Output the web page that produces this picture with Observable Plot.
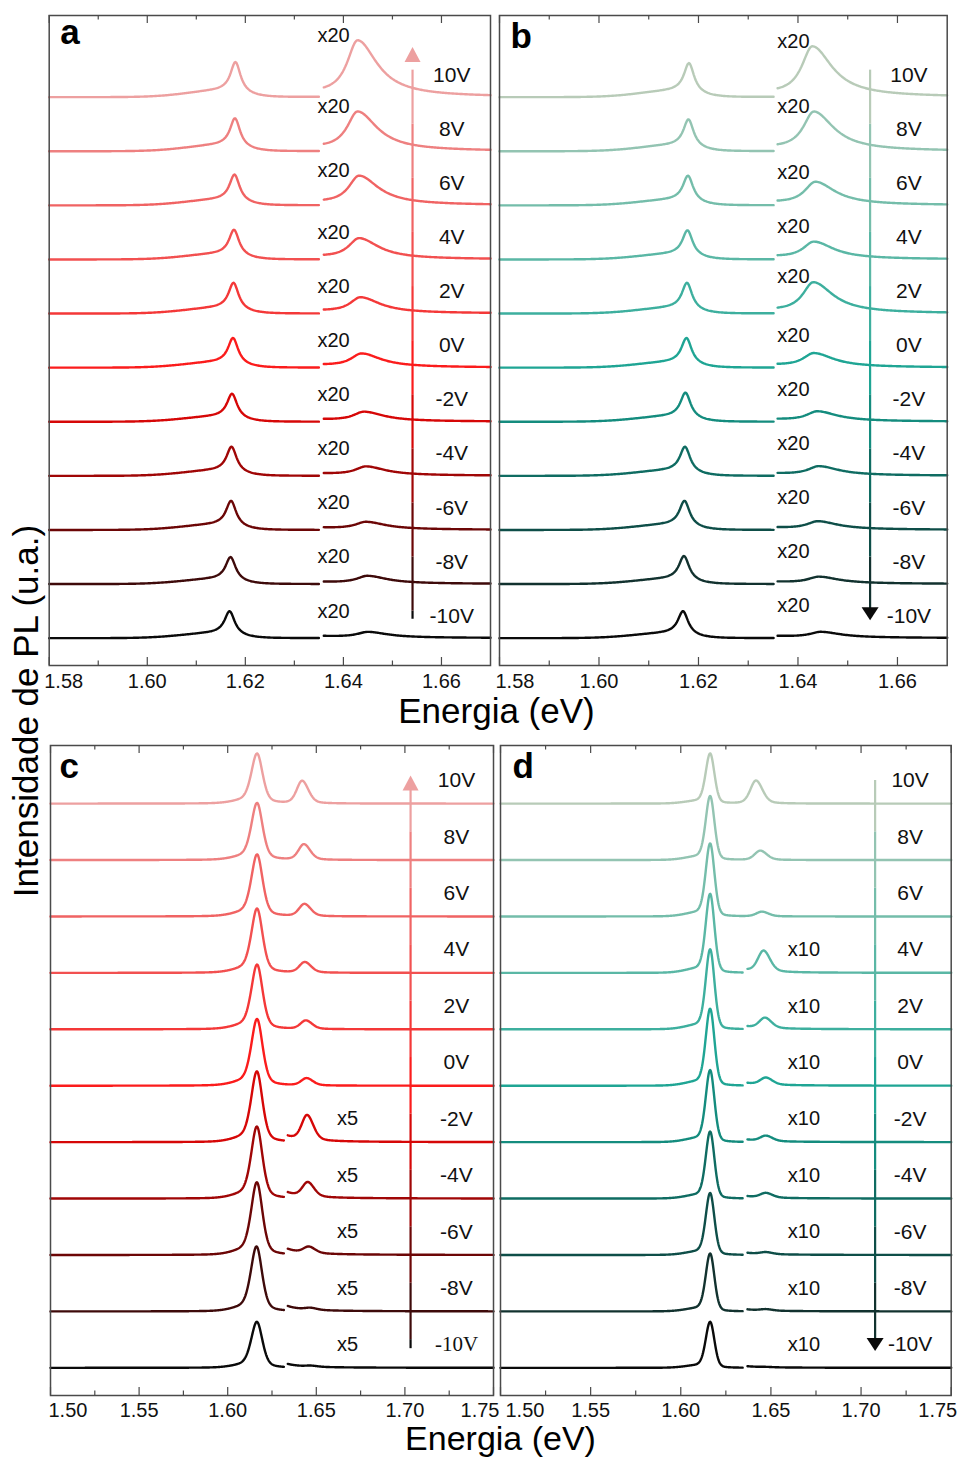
<!DOCTYPE html>
<html>
<head>
<meta charset="utf-8">
<script src="https://cdn.jsdelivr.net/npm/d3@7"></script>
<script src="https://cdn.jsdelivr.net/npm/@observablehq/plot@0.6"></script>
<style>
  body { margin: 0; background: #fff; }
  #fig { position: relative; width: 960px; height: 1459px; font-family: "Liberation Sans", Arial, sans-serif; }
  #fig .panel { position: absolute; }
  #titles { position: absolute; left: 0; top: 0; pointer-events: none; }
</style>
</head>
<body>
<div id="fig"></div>
<script>
// Gate voltages, top spectrum first
const voltages = ["10V", "8V", "6V", "4V", "2V", "0V", "-2V", "-4V", "-6V", "-8V", "-10V"];

// Panel a: 1.58–1.67 eV window, satellite region magnified x20
const aFactor = [20, 20, 20, 20, 20, 20, 20, 20, 20, 20, 20];
const aMainPeak = [1.6180, 1.6179, 1.6178, 1.6177, 1.6176, 1.6175, 1.6173, 1.6172, 1.6171, 1.6170, 1.6168];
const aMainHeight = [0.65, 0.61, 0.57, 0.55, 0.57, 0.55, 0.52, 0.54, 0.54, 0.50, 0.50];
const aSidePeak = [1.6429, 1.6429, 1.6432, 1.6432, 1.6435, 1.6437, 1.6442, 1.6446, 1.6446, 1.6449, 1.6450];
const aSideHeight = [0.0512, 0.0355, 0.0263, 0.0186, 0.0140, 0.0121, 0.0084, 0.0078, 0.0066, 0.0068, 0.0050];

// Panel b: same window, second device
const bFactor = [20, 20, 20, 20, 20, 20, 20, 20, 20, 20, 20];
const bMainPeak = [1.6181, 1.6180, 1.6179, 1.6178, 1.6177, 1.6176, 1.6174, 1.6173, 1.6172, 1.6171, 1.6169];
const bMainHeight = [0.63, 0.59, 0.55, 0.54, 0.57, 0.55, 0.54, 0.54, 0.54, 0.52, 0.50];
const bSidePeak = [1.6429, 1.6432, 1.6435, 1.6432, 1.6431, 1.6432, 1.6439, 1.6442, 1.6440, 1.6442, 1.6446];
const bSideHeight = [0.0457, 0.0355, 0.0207, 0.0154, 0.0278, 0.0124, 0.0087, 0.0080, 0.0071, 0.0059, 0.0050];

// Panel c: 1.50–1.75 eV window, satellite magnified x5 below 0V
const cFactor = [1, 1, 1, 1, 1, 1, 5, 5, 5, 5, 5];
const cMainPeak = [1.6166, 1.6166, 1.6166, 1.6166, 1.6166, 1.6166, 1.6165, 1.6165, 1.6165, 1.6163, 1.6165];
const cMainHeight = [0.887, 1.011, 1.099, 1.140, 1.147, 1.183, 1.254, 1.277, 1.289, 1.152, 0.816];
const cSidePeak = [1.6420, 1.6430, 1.6433, 1.6435, 1.6441, 1.6445, 1.6448, 1.6452, 1.6458, 1.6467, 1.6470];
const cSideHeight = [0.399, 0.275, 0.216, 0.186, 0.151, 0.128, 0.0883, 0.0507, 0.0223, 0.0067, 0.0035];

// Panel d: 1.50–1.75 eV window, satellite magnified x10 from 4V down
const dFactor = [1, 1, 1, 10, 10, 10, 10, 10, 10, 10, 10];
const dMainPeak = [1.6163, 1.6163, 1.6163, 1.6163, 1.6163, 1.6163, 1.6163, 1.6163, 1.6163, 1.6163, 1.6163];
const dMainHeight = [0.887, 1.135, 1.294, 1.401, 1.418, 1.365, 1.277, 1.188, 1.099, 1.028, 0.816];
const dSidePeak = [1.6417, 1.6441, 1.6450, 1.6459, 1.6467, 1.6472, 1.6472, 1.6472, 1.6472, 1.6472, 1.6472];
const dSideHeight = [0.408, 0.165, 0.083, 0.0372, 0.0184, 0.0124, 0.0096, 0.0083, 0.0035, 0.0025, 0.0005];

// Axis ticks
const abMajor = [1.58, 1.60, 1.62, 1.64, 1.66];
const abMinor = [1.59, 1.61, 1.63, 1.65];
const cdMajor = [1.50, 1.55, 1.60, 1.65, 1.70, 1.75];
const cdMinor = [1.525, 1.575, 1.625, 1.675, 1.725];

// Line colours, 10V → -10V
const reds = ["#eda0a0", "#ee8080", "#f06363", "#f25050", "#f43838", "#fb1c1c", "#d60707", "#a00606", "#6c0606", "#3e0a0a", "#0a0a0a"];
const teals = ["#b8cbb8", "#93c4b2", "#74bdaa", "#5ab7a5", "#3daf9e", "#1fa594", "#148c7e", "#0f6c62", "#0e4e48", "#12322f", "#0a0a0a"];

// Asymmetric pseudo-Voigt (unit height, half widths on each side)
function pv(x, c, hwL, hwR, eta) {
  const u = (x - c) / (x < c ? hwL : hwR);
  return eta / (1 + u * u) + (1 - eta) * Math.exp(-Math.LN2 * u * u);
}
function makeMain(s) {
  const f = (x, c) => pv(x, c, s.hw[0], s.hw[1], s.eta) +
    s.sh.amp * pv(x, c + s.sh.shift, s.sh.hw[0], s.sh.hw[1], s.sh.eta);
  const norm = f(0, 0);
  return (x, c) => f(x, c) / norm;
}
const narrowMain = makeMain({hw: [0.00125, 0.00125], eta: 1, sh: {shift: -0.003, amp: 0.2, hw: [0.0082, 0.0047], eta: 0}});
const narrowSide = (x, c) => pv(x, c, 0.0026, 0.0048, 1);
const cMain = makeMain({hw: [0.0038, 0.0037], eta: 0.4, sh: {shift: -0.006, amp: 0.05, hw: [0.009, 0.004], eta: 0}});
const cSide = (x, c) => pv(x, c, 0.0036, 0.0042, 0.3);
const dMain = makeMain({hw: [0.0029, 0.0028], eta: 0.2, sh: {shift: -0.006, amp: 0.05, hw: [0.009, 0.004], eta: 0}});
const dSide = (x, c) => pv(x, c, 0.0037, 0.0043, 0.3);

const upHead = {draw(ctx) { ctx.moveTo(0, 0); ctx.lineTo(8, 15); ctx.lineTo(-8, 15); ctx.closePath(); }};
const downHead = {draw(ctx) { ctx.moveTo(0, 0); ctx.lineTo(8.5, -13); ctx.lineTo(-8.5, -13); ctx.closePath(); }};

const panels = [
  {letter: "a", left: 0, top: 0, width: 494, height: 700, mL: 48.7, mR: 4, mT: 15, mB: 35,
   x: [1.58, 1.67], y: [-0.505, 11.51], colors: reds,
   factor: aFactor, mainPeak: aMainPeak, mainHeight: aMainHeight, sidePeak: aSidePeak, sideHeight: aSideHeight,
   main: narrowMain, side: narrowSide, mainEnd: 1.635, sideStart: 1.636, step: 0.0002,
   major: abMajor, minor: abMinor, labelX: 1.6621, multX: 1.638, multLift: 0.5, multFixed: false,
   arrow: {x: 1.6541, from: 0.35, to: 10.93, up: true}, letterPos: [11, 28.3], firstDx: -5, lastEdge: false, pad: 8},
  {letter: "b", left: 494, top: 0, width: 466, height: 700, mL: 5, mR: 13.3, mT: 15, mB: 35,
   x: [1.58, 1.67], y: [-0.505, 11.51], colors: teals,
   factor: bFactor, mainPeak: bMainPeak, mainHeight: bMainHeight, sidePeak: bSidePeak, sideHeight: bSideHeight,
   main: narrowMain, side: narrowSide, mainEnd: 1.6351, sideStart: 1.6359, step: 0.0002,
   major: abMajor, minor: abMinor, labelX: 1.6623, multX: 1.6391, multLift: 0.6, multFixed: false,
   arrow: {x: 1.6545, from: 10.83, to: 0.33, up: false}, letterPos: [11, 32.5], firstDx: -4, lastEdge: false, pad: 8},
  {letter: "c", left: 0, top: 720, width: 496, height: 720, mL: 50, mR: 3, mT: 25, mB: 45,
   x: [1.50, 1.75], y: [-0.49, 11.03], colors: reds,
   factor: cFactor, mainPeak: cMainPeak, mainHeight: cMainHeight, sidePeak: cSidePeak, sideHeight: cSideHeight,
   main: cMain, side: cSide, mainEnd: 1.6317, sideStart: 1.6339, step: 0.00025,
   major: cdMajor, minor: cdMinor, labelX: 1.7291, multX: 1.6676, multLift: 0.41, multFixed: true,
   arrow: {x: 1.7032, from: 0.34, to: 10.5, up: true}, letterPos: [9, 32], firstDx: -2, lastEdge: true, pad: 7},
  {letter: "d", left: 496, top: 720, width: 464, height: 720, mL: 4, mR: 9.3, mT: 25, mB: 45,
   x: [1.50, 1.75], y: [-0.49, 11.03], colors: teals,
   factor: dFactor, mainPeak: dMainPeak, mainHeight: dMainHeight, sidePeak: dSidePeak, sideHeight: dSideHeight,
   main: dMain, side: dSide, mainEnd: 1.6343, sideStart: 1.637, step: 0.00025,
   major: cdMajor, minor: cdMinor, labelX: 1.7272, multX: 1.6683, multLift: 0.41, multFixed: true,
   arrow: {x: 1.7078, from: 10.41, to: 0.30, up: false}, letterPos: [12, 32], firstDx: 5, lastEdge: true, pad: 7}
];

function sample(x0, x1, step) {
  const n = Math.round((x1 - x0) / step);
  return d3.range(n + 1).map(j => x0 + (x1 - x0) * j / n);
}

function drawPanel(p) {
  const spectra = [];
  const rows = voltages.map((v, i) => {
    const base = 10 - i;
    const f = p.factor[i];
    const I = x => p.mainHeight[i] * p.main(x, p.mainPeak[i]) + p.sideHeight[i] * p.side(x, p.sidePeak[i]);
    const color = p.colors[i];
    if (f === 1) {
      for (const x of sample(p.x[0], p.x[1], p.step)) spectra.push({x, y: base + I(x), id: v, color});
    } else {
      for (const x of sample(p.x[0], p.mainEnd, p.step)) spectra.push({x, y: base + I(x), id: v + "-main", color});
      for (const x of sample(p.sideStart, p.x[1], p.step)) spectra.push({x, y: base + f * I(x), id: v + "-mag", color});
    }
    const shown = f * p.sideHeight[i];
    const lift = p.multFixed ? p.multLift : Math.max(shown + 0.12, p.multLift);
    return {v, i, base, f, color, multY: base + lift};
  });

  // Arrow shaft split into row-coloured pieces
  const a = p.arrow;
  const lo = a.up ? a.from : a.to + 0.12;
  const hi = a.up ? a.to - 0.12 : a.from;
  const shaft = [];
  for (let k = 0; k <= 10; k++) {
    const y1 = Math.max(lo, k - 0.5), y2 = Math.min(hi, k + 0.5);
    if (y1 < y2) shaft.push({y1, y2, color: p.colors[10 - k]});
  }
  const headColor = a.up ? p.colors[0] : p.colors[10];

  const innerH = p.height - p.mT - p.mB;
  const tickStroke = "#4a4a4a";
  const first = p.major[0];
  const last = p.major[p.major.length - 1];
  const middle = p.major.filter(t => t !== first && !(p.lastEdge && t === last));
  const axisOpts = {anchor: "bottom", label: null, tickSize: 0, tickPadding: p.pad, fontSize: 20, tickFormat: d => d.toFixed(2), fill: "#111"};

  const marks = [
    Plot.line(spectra, {x: "x", y: "y", z: "id", stroke: "color", strokeWidth: 2.4}),
    Plot.ruleX(shaft, {x: a.x, y1: "y1", y2: "y2", stroke: "color", strokeWidth: 2.2}),
    Plot.dot([a.to], {x: a.x, y: d => d, symbol: a.up ? upHead : downHead, fill: headColor, stroke: "none"}),
    Plot.text(rows.filter(r => !(p.letter === "c" && r.v === "-10V")), {
      x: p.labelX, y: r => r.base + 0.41, text: "v", fontSize: 21, fill: "#111"}),
    Plot.text(rows.filter(r => p.letter === "c" && r.v === "-10V"), {
      x: p.labelX, y: r => r.base + 0.41, text: "v", fontSize: 21, fill: "#111", fontFamily: "Liberation Serif"}),
    Plot.text(rows.filter(r => r.f > 1), {
      x: p.multX, y: "multY", text: r => "x" + r.f, fontSize: 20, fill: "#111"}),
    // inward ticks, bottom and top
    Plot.ruleX(p.major, {stroke: tickStroke, strokeWidth: 1.2, insetTop: innerH - 8}),
    Plot.ruleX(p.minor, {stroke: tickStroke, strokeWidth: 1.2, insetTop: innerH - 4.5}),
    Plot.ruleX(p.major, {stroke: tickStroke, strokeWidth: 1.2, insetBottom: innerH - 8}),
    Plot.ruleX(p.minor, {stroke: tickStroke, strokeWidth: 1.2, insetBottom: innerH - 4.5}),
    Plot.frame({stroke: tickStroke, strokeWidth: 1.5}),
    Plot.axisX(middle, axisOpts),
    Plot.axisX([first], {...axisOpts, textAnchor: "start", dx: p.firstDx}),
    Plot.text([p.letter], {frameAnchor: "top-left", dx: p.letterPos[0], dy: p.letterPos[1], text: d => d,
      textAnchor: "start", lineAnchor: "bottom", fontSize: 35, fontWeight: "bold", fill: "#000"})
  ];
  if (p.lastEdge) {
    marks.push(Plot.axisX([last], {...axisOpts, textAnchor: "end", dx: 6}));
  }

  const svg = Plot.plot({
    width: p.width, height: p.height,
    marginLeft: p.mL, marginRight: p.mR, marginTop: p.mT, marginBottom: p.mB,
    x: {domain: p.x, axis: null, label: null},
    y: {domain: p.y, axis: null, label: null},
    color: {type: "identity"},
    style: "background:none;overflow:visible;font-family:'Liberation Sans',Arial,sans-serif;",
    marks
  });
  const holder = document.createElement("div");
  holder.className = "panel";
  holder.style.left = p.left + "px";
  holder.style.top = p.top + "px";
  holder.appendChild(svg);
  return holder;
}

const fig = document.getElementById("fig");
for (const p of panels) fig.appendChild(drawPanel(p));

// Shared axis titles
const titles = d3.create("svg").attr("id", "titles").attr("width", 960).attr("height", 1459)
  .style("font-family", "'Liberation Sans', Arial, sans-serif").style("fill", "#000");
titles.append("text").attr("x", 496.5).attr("y", 723).attr("text-anchor", "middle").attr("font-size", 35).text("Energia (eV)");
titles.append("text").attr("x", 500.5).attr("y", 1450).attr("text-anchor", "middle").attr("font-size", 34).text("Energia (eV)");
titles.append("text").attr("transform", "translate(38,711) rotate(-90)").attr("text-anchor", "middle").attr("font-size", 35).text("Intensidade de PL (u.a.)");
fig.appendChild(titles.node());
</script>
</body>
</html>
